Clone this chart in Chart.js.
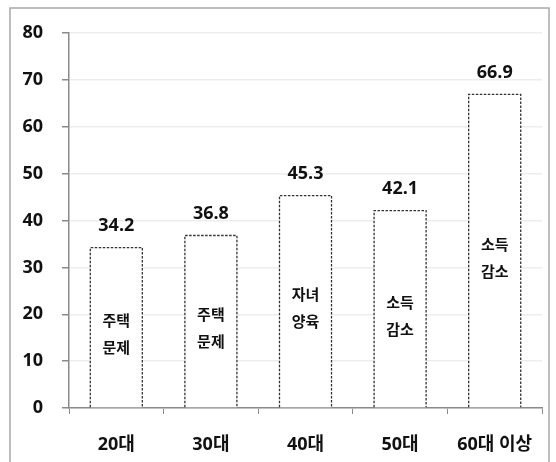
<!DOCTYPE html>
<html>
<head>
<meta charset="utf-8">
<script src="https://cdn.jsdelivr.net/npm/chart.js@4"></script>
<style>
  html, body { margin: 0; padding: 0; background: #fff; }
  #wrap { width: 556px; height: 462px; }
</style>
</head>
<body>
<div id="wrap"><canvas id="myChart" width="556" height="462"></canvas></div>
<script>
const categories = ['20대', '30대', '40대', '50대', '60대 이상'];
const values = [34.2, 36.8, 45.3, 42.1, 66.9];
const reasons = [['주택', '문제'], ['주택', '문제'], ['자녀', '양육'], ['소득', '감소'], ['소득', '감소']];
const yTicks = [0, 10, 20, 30, 40, 50, 60, 70, 80];

const FONT = '"Open Sans", "Noto Sans CJK KR", sans-serif';
Chart.defaults.font.family = FONT;
Chart.defaults.color = '#111';

// frame + dashed bars + labels
const decor = {
    id: 'decor',
    beforeDraw(chart) {
        const c = chart.ctx;
        c.save();
        c.fillStyle = '#fff';
        c.fillRect(0, 0, chart.width, chart.height);
        c.strokeStyle = '#a8a8a8';
        c.lineWidth = 1.5;
        c.strokeRect(10, 8, 539, 480);
        c.restore();
    },
    afterDatasetsDraw(chart) {
        const c = chart.ctx;
        const meta = chart.getDatasetMeta(0);
        c.save();
        meta.data.forEach((bar, i) => {
            const l = bar.x - bar.width / 2, r = bar.x + bar.width / 2;
            c.strokeStyle = '#333';
            c.lineWidth = 1.3;
            c.setLineDash([2.5, 1.5]);
            c.beginPath();
            c.moveTo(l, bar.base);
            c.lineTo(l, bar.y);
            c.lineTo(r, bar.y);
            c.lineTo(r, bar.base);
            c.stroke();
            c.setLineDash([]);

            c.fillStyle = '#111';
            c.textAlign = 'center';
            c.textBaseline = 'middle';
            c.font = 'bold 18px ' + FONT;
            c.fillText(values[i].toFixed(1), bar.x, bar.y - 22);

            c.font = 'bold 15px ' + FONT;
            const mid = (bar.y + bar.base) / 2 + 8;
            c.fillText(reasons[i][0], bar.x, mid - 13.5);
            c.fillText(reasons[i][1], bar.x, mid + 13.5);
        });
        c.restore();
    }
};

const ctx = document.getElementById('myChart').getContext('2d');
const myChart = new Chart(ctx, {
    type: 'bar',
    data: {
        labels: categories,
        datasets: [{
            data: values,
            backgroundColor: '#fff',
            borderWidth: 0,
            categoryPercentage: 1,
            barPercentage: 0.55
        }]
    },
    options: {
        responsive: false,
        animation: false,
        layout: { padding: { top: 33, right: 14, bottom: 0, left: 0 } },
        plugins: {
            legend: { display: false },
            tooltip: { enabled: false }
        },
        scales: {
            x: {
                grid: { drawOnChartArea: false, tickLength: 6, tickColor: '#8a8a8a', offset: true },
                border: { color: '#8a8a8a', width: 1.5 },
                ticks: { font: { size: 18, weight: 'bold' }, color: '#111', padding: 20, maxRotation: 0 },
                afterFit(s) { s.height = 54; }
            },
            y: {
                min: 0,
                max: 80,
                afterBuildTicks(s) { s.ticks = yTicks.map(v => ({ value: v })); },
                grid: { color: '#ededed', lineWidth: 1.5, tickLength: 7, tickColor: '#8a8a8a' },
                border: { color: '#8a8a8a', width: 1.5 },
                ticks: { font: { size: 18, weight: 'bold' }, color: '#111', padding: 19 },
                afterFit(s) { s.width = 69; }
            }
        }
    },
    plugins: [decor]
});
</script>
</body>
</html>
